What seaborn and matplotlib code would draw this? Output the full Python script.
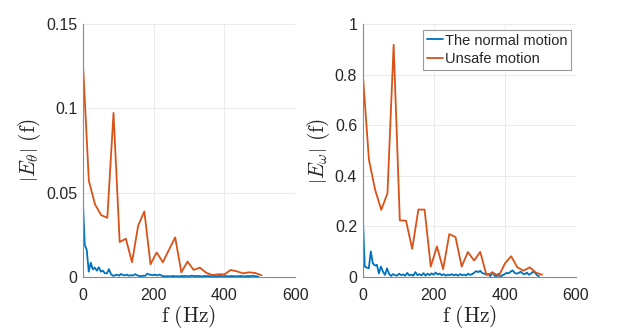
import numpy as np
import pandas as pd
import matplotlib
matplotlib.use("Agg")
import matplotlib.pyplot as plt
import seaborn as sns
from matplotlib.ticker import FuncFormatter

# ---------------- data ----------------
f_unsafe = [0, 17.4, 34.8, 52.2, 69.6, 87.0, 104.4, 121.8, 139.2, 156.6,
            174.0, 191.4, 208.8, 226.2, 243.6, 261.0, 278.4, 295.8, 313.2, 330.6,
            348.0, 365.4, 382.8, 400.2, 417.6, 435.0, 452.4, 469.8, 487.2, 504.6]

theta_unsafe = [0.130, 0.057, 0.043, 0.0366, 0.035, 0.0974, 0.0206, 0.0226, 0.0086, 0.0304,
                0.0388, 0.0074, 0.0144, 0.0086, 0.016, 0.0234, 0.0026, 0.009, 0.004, 0.0054,
                0.0024, 0.001, 0.0014, 0.0014, 0.004, 0.0032, 0.002, 0.0026, 0.0022, 0.0008]

omega_unsafe = [0.81, 0.465, 0.345, 0.265, 0.33, 0.919, 0.223, 0.222, 0.11, 0.266,
                0.266, 0.04, 0.12, 0.03, 0.169, 0.157, 0.04, 0.098, 0.064, 0.098,
                0.007, 0.016, 0.003, 0.053, 0.081, 0.037, 0.024, 0.037, 0.016, 0.008]

f_normal = [0.0, 5.7, 11.4, 17.1, 22.8, 28.5, 34.2, 39.9, 45.6, 51.3,
            57.0, 62.7, 68.4, 74.1, 79.8, 85.5, 91.2, 96.9, 102.6, 108.3,
            114.0, 119.7, 125.4, 131.1, 136.8, 142.5, 148.2, 153.9, 159.6, 165.3,
            171.0, 176.7, 182.4, 188.1, 193.8, 199.5, 205.2, 210.9, 216.6, 222.3,
            228.0, 233.7, 239.4, 245.1, 250.8, 256.5, 262.2, 267.9, 273.6, 279.3,
            285.0, 290.7, 296.4, 302.1, 307.8, 313.5, 319.2, 324.9, 330.6, 336.3,
            342.0, 347.7, 353.4, 359.1, 364.8, 370.5, 376.2, 381.9, 387.6, 393.3,
            399.0, 404.7, 410.4, 416.1, 421.8, 427.5, 433.2, 438.9, 444.6, 450.3,
            456.0, 461.7, 467.4, 473.1, 478.8, 484.5, 490.2, 495.9]

theta_normal = [0.048, 0.019, 0.016, 0.003, 0.0083, 0.0044, 0.0054, 0.0036, 0.0056, 0.003,
                0.0036, 0.002, 0.002, 0.0045, 0.0015, 0.0005, 0.0008, 0.0012, 0.0006, 0.0016,
                0.001, 0.0008, 0.0012, 0.0006, 0.0009, 0.0007, 0.0015, 0.0008, 0.0004, 0.0003,
                0.0006, 0.0005, 0.0018, 0.0012, 0.0011, 0.0009, 0.0012, 0.0007, 0.0013, 0.0006,
                0.0004, 0.0002, 0.0003, 0.0002, 0.0003, 0.0004, 0.0002, 0.0003, 0.0002, 0.0004,
                0.0003, 0.0005, 0.0002, 0.0003, 0.0006, 0.0004, 0.0003, 0.0005, 0.0003, 0.0002,
                0.0004, 0.0003, 0.0005, 0.0002, 0.0003, 0.0004, 0.0002, 0.0003, 0.0005, 0.0002,
                0.0003, 0.0004, 0.0002, 0.0003, 0.0004, 0.0002, 0.0003, 0.0002, 0.0004, 0.0003,
                0.0002, 0.0003, 0.0004, 0.0002, 0.0006, 0.0003, 0.0002, 0.0]

omega_normal = [0.253, 0.04, 0.036, 0.033, 0.1, 0.053, 0.044, 0.047, 0.013, 0.04,
                0.02, 0.007, 0.033, 0.011, 0.003, 0.01, 0.006, 0.004, 0.012, 0.006,
                0.009, 0.004, 0.015, 0.005, 0.008, 0.004, 0.018, 0.006, 0.01, 0.005,
                0.014, 0.004, 0.012, 0.006, 0.013, 0.008, 0.016, 0.009, 0.012, 0.006,
                0.01, 0.004, 0.008, 0.006, 0.01, 0.005, 0.009, 0.004, 0.01, 0.006,
                0.008, 0.005, 0.012, 0.007, 0.01, 0.016, 0.022, 0.018, 0.023, 0.014,
                0.012, 0.008, 0.01, 0.002, 0.018, 0.004, 0.001, 0.012, 0.0, 0.006,
                0.01, 0.015, 0.013, 0.02, 0.025, 0.015, 0.012, 0.015, 0.02, 0.012,
                0.01, 0.016, 0.008, 0.012, 0.02, 0.016, 0.006, 0.002]

series_labels = ["The normal motion", "Unsafe motion"]
x_ticks = [0, 200, 400, 600]
theta_ticks = [0, 0.05, 0.1, 0.15]
omega_ticks = [0, 0.2, 0.4, 0.6, 0.8, 1]

# ---------------- style ----------------
sns.set_theme(style="white")
plt.rcParams["font.family"] = ["Liberation Sans", "DejaVu Sans"]
plt.rcParams["mathtext.fontset"] = "cm"

blue = "#0072BD"
orange = "#D95319"
spine_c = "#8a8a8a"
text_c = "#262626"

fig = plt.figure(figsize=(6.37, 3.32), dpi=100)
ax1 = fig.add_axes([0.1298, 0.1666, 0.3338, 0.760])
ax2 = fig.add_axes([0.5694, 0.1666, 0.3349, 0.760])

fmt = FuncFormatter(lambda v, p: f"{v:g}")

def draw(ax, fn, yn, fu, yu, yticks, ylabel, legend):
    dn = pd.DataFrame({"f": fn, "y": yn, "s": series_labels[0]})
    du = pd.DataFrame({"f": fu, "y": yu, "s": series_labels[1]})
    d = pd.concat([dn, du], ignore_index=True)
    sns.lineplot(data=d, x="f", y="y", hue="s", palette=[blue, orange],
                 linewidth=1.3, ax=ax, legend=legend, estimator=None, sort=False)
    ax.set_xlim(0, 600)
    ax.set_ylim(yticks[0], yticks[-1])
    ax.set_xticks(x_ticks)
    ax.set_yticks(yticks)
    ax.xaxis.set_major_formatter(fmt)
    ax.yaxis.set_major_formatter(fmt)
    ax.grid(True, color="#ebebeb", linewidth=0.7)
    ax.set_axisbelow(True)
    for s in ["top", "right"]:
        ax.spines[s].set_visible(False)
    for s in ["left", "bottom"]:
        ax.spines[s].set_color(spine_c)
        ax.spines[s].set_linewidth(0.8)
    ax.tick_params(direction="in", length=3, width=0.7, color=spine_c,
                   labelsize=11.5, labelcolor=text_c)
    ax.tick_params(axis="x", pad=8)
    ax.tick_params(axis="y", pad=4)
    ax.set_xlabel(r"$\mathrm{f\ (Hz)}$", fontsize=15.5, color=text_c, labelpad=0)
    ax.set_ylabel(ylabel, fontsize=15.5, color=text_c, labelpad=2)

draw(ax1, f_normal, theta_normal, f_unsafe, theta_unsafe, theta_ticks,
     r"$\left|E_\theta\right|\ \mathrm{(f)}$", False)
draw(ax2, f_normal, omega_normal, f_unsafe, omega_unsafe, omega_ticks,
     r"$\left|E_\omega\right|\ \mathrm{(f)}$", True)

leg = ax2.legend(loc="upper right", bbox_to_anchor=(0.975, 0.978), fontsize=10.5,
                 frameon=True, fancybox=False, framealpha=1, edgecolor="#999999",
                 handlelength=1.1, handletextpad=0.1, borderpad=0.25,
                 labelspacing=0.3, borderaxespad=0.0)
leg.get_frame().set_linewidth(0.8)
for t in leg.get_texts():
    t.set_color(text_c)

fig.savefig("out.png", dpi=100, facecolor="white")
